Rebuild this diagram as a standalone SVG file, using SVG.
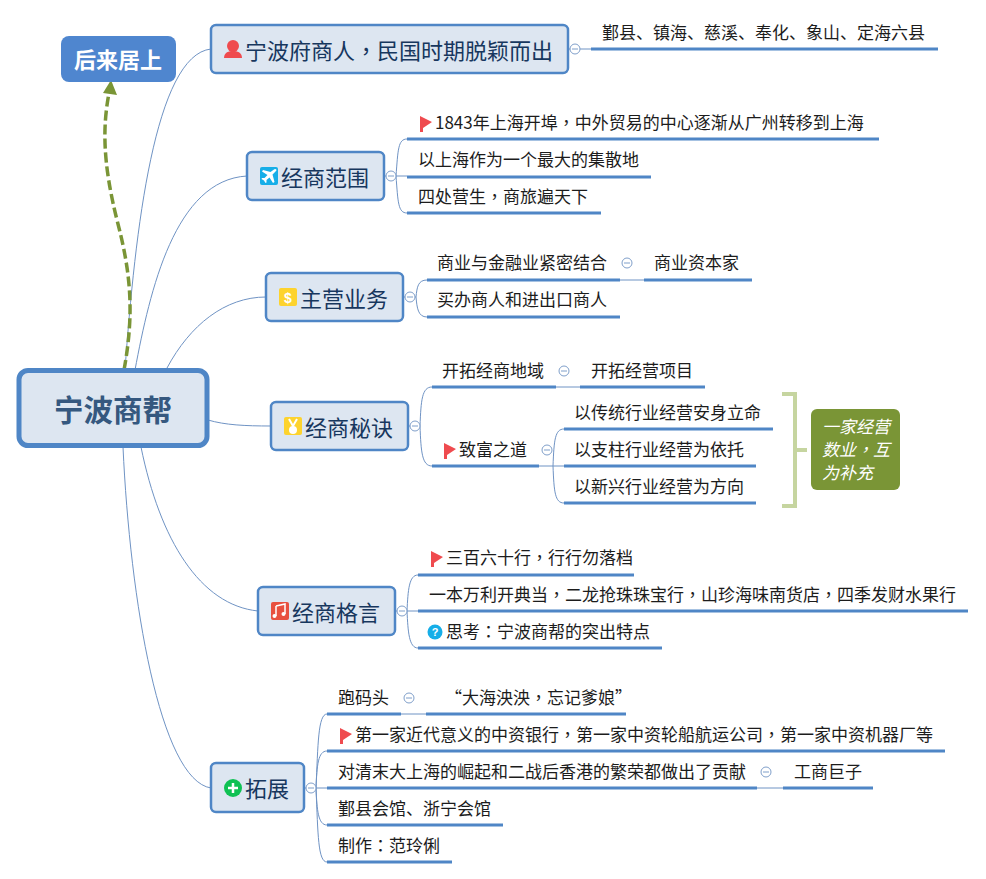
<svg xmlns="http://www.w3.org/2000/svg" width="986" height="879" viewBox="0 0 986 879">
<style>
text{font-family:"Noto Sans CJK SC","Microsoft YaHei",sans-serif;fill:#1c1c1c}
.p{font-family:"Noto Sans CJK TC","Noto Sans CJK SC",sans-serif}
.m{fill:#dde6f1;stroke:#4f86c6;stroke-width:2.5}
.t{font-size:22px;fill:#17375e}
.l{font-size:17px}
.u{stroke:#4f86c6;stroke-width:3;fill:none}
.c{stroke:#6f93c4;stroke-width:1;fill:none}
.o{fill:#fff;stroke:#7f9fca;stroke-width:1}
.d{stroke:#7f9fca;stroke-width:1}
.f{fill:#ef4b4f}
</style>
<defs>
<g id="col"><circle class="o" r="5"/><line class="d" x1="-3" x2="3"/></g>
<path id="flag" class="f" d="M0,0 L12,6 L3,12 L3,16 L0,16Z"/>
</defs>
<g id="connectors">
<path class="c" d="M125,370 C135,230 155,55 211,49"/>
<path class="c" d="M135,370 C150,290 175,180 247,176"/>
<path class="c" d="M167,368 C190,325 225,297 266,297"/>
<path class="c" d="M208,420 C225,425 245,426 271,426"/>
<path class="c" d="M141,447 C160,540 200,605 258,611"/>
<path class="c" d="M123,447 C130,600 160,780 211,788"/>
<path d="M124,370 C135,310 130,270 117,220 C102,160 103,125 109,93" fill="none" stroke="#7a9536" stroke-width="3.500" stroke-dasharray="10 4"/>
<path d="M111,80 L117,95 L103,93Z" fill="#7a9536"/>
<path class="c" d="M568,49 H591"/>
<path class="c" d="M384,176 H396 M396,176 C398,150 398,139 407,139 M396,176 H407 M396,176 C398,202 398,213 407,213"/>
<path class="c" d="M403,297 H416 M416,297 C417,287 418,280 427,280 M416,297 C417,308 418,317 427,317 M620,280 H644"/>
<path class="c" d="M408,426 H420 M420,426 C421,400 422,387 432,387 M420,426 C421,452 422,466 432,466 M556,387 H580 M539,466 H553 M553,466 C554,440 555,429 564,429 M553,466 H564 M553,466 C554,492 555,503 564,503"/>
<path class="c" d="M395,611 H407 M407,611 C408,590 409,575 418,575 M407,611 H418 M407,611 C408,632 409,648 418,648"/>
<path class="c" d="M304,788 H316 M316,788 C318,745 318,714 327,714 M316,788 C317,765 318,751 327,751 M316,788 H327 M316,788 C317,810 318,825 327,825 M316,788 C318,835 318,862 327,862 M401,714 H426 M757,788 H783"/>
</g>
<g id="underlines">
<path class="u" d="M591,49 H938"/>
<path class="u" d="M407,139 H879 M407,177 H651 M407,213 H601"/>
<path class="u" d="M427,280 H620 M644,280 H752 M427,317 H620"/>
<path class="u" d="M432,387 H556 M580,387 H705 M432,466 H539 M564,429 H773 M564,466 H756 M564,503 H756"/>
<path class="u" d="M418,575 H634 M418,611 H968 M418,648 H662"/>
<path class="u" d="M327,714 H401 M426,714 H626 M327,751 H945 M327,788 H757 M783,788 H873 M327,825 H503 M327,862 H452"/>
</g>
<g id="center">
<rect x="19" y="370.500" width="188" height="75" rx="9" fill="#dde6f1" stroke="#4f86c6" stroke-width="5"/>
<text x="113" y="421" text-anchor="middle" font-size="29.500" font-weight="700" style="fill:#35587f">宁波商帮</text>
</g>
<g id="later">
<rect x="61" y="36" width="115" height="46" rx="8" fill="#4f86cf"/>
<text x="118" y="68" text-anchor="middle" font-size="22" font-weight="700" style="fill:#fff">后来居上</text>
</g>
<g id="n1">
<rect class="m" x="211" y="25" width="357" height="48" rx="5"/>
<circle class="f" cx="233" cy="46" r="6"/><path class="f" d="M224,58 C224,52 229,51 233,51 C237,51 242,52 242,58Z"/>
<text class="t" x="245" y="59">宁波府商人<tspan class="p">，</tspan>民国时期脱颖而出</text>
<use href="#col" x="575" y="49"/>
<text class="l" x="602" y="39">鄞县、镇海、慈溪、奉化、象山、定海六县</text>
</g>
<g id="n2">
<rect class="m" x="247" y="152" width="137" height="48" rx="5"/>
<rect x="260" y="167" width="18" height="18" rx="2" fill="#16aee8"/>
<path fill="#fff" d="M275,169 C276.500,169 277,170 276,171 L272.500,174.500 L274.500,182 L273,183 L269.500,177.500 L266.500,180 L266.500,182.500 L265.500,183 L264,180.500 L261.500,179 L262,178 L264.500,178 L267.500,175 L262,171.500 L263,170 L270.500,172 L274,169.500Z"/>
<text class="t" x="281" y="186">经商范围</text>
<use href="#col" x="391" y="176"/>
<use href="#flag" x="420" y="116"/>
<text class="l" x="435" y="129">1843年上海开埠<tspan class="p">，</tspan>中外贸易的中心逐渐从广州转移到上海</text>
<text class="l" x="418" y="166">以上海作为一个最大的集散地</text>
<text class="l" x="418" y="203">四处营生<tspan class="p">，</tspan>商旅遍天下</text>
</g>
<g id="n3">
<rect class="m" x="266" y="273" width="137" height="48" rx="5"/>
<rect x="279" y="288" width="18" height="18" rx="2" fill="#fdd32e"/>
<text x="288" y="303" text-anchor="middle" font-size="14" font-weight="700" style="fill:#fff;font-family:'Liberation Sans',sans-serif">$</text>
<text class="t" x="300" y="307">主营业务</text>
<use href="#col" x="410" y="297"/>
<text class="l" x="437" y="269">商业与金融业紧密结合</text>
<use href="#col" x="627" y="263"/>
<text class="l" x="654" y="269">商业资本家</text>
<text class="l" x="437" y="306">买办商人和进出口商人</text>
</g>
<g id="n4">
<rect class="m" x="271" y="402" width="137" height="48" rx="5"/>
<rect x="284" y="417" width="18" height="18" rx="2" fill="#fdd32e"/>
<circle cx="293" cy="430" r="4" fill="#fff"/><path d="M289,419 L293,426 L297,419" stroke="#fff" stroke-width="2" fill="none"/>
<text class="t" x="305" y="436">经商秘诀</text>
<use href="#col" x="415" y="426"/>
<text class="l" x="442" y="377">开拓经商地域</text>
<use href="#col" x="564" y="371"/>
<text class="l" x="591" y="377">开拓经营项目</text>
<use href="#flag" x="444" y="443"/>
<text class="l" x="459" y="456">致富之道</text>
<use href="#col" x="547" y="450"/>
<text class="l" x="574" y="419">以传统行业经营安身立命</text>
<text class="l" x="574" y="456">以支柱行业经营为依托</text>
<text class="l" x="574" y="493">以新兴行业经营为方向</text>
</g>
<g id="summary">
<path d="M782,394 H795 V506 H782 M795,450 H807" fill="none" stroke="#c6d5a0" stroke-width="4"/>
<rect x="811" y="409" width="89" height="81" rx="6" fill="#7a9536"/>
<text class="l" x="822" y="433" font-style="italic" style="fill:#fff">一家经营</text>
<text class="l" x="822" y="456" font-style="italic" style="fill:#fff">数业<tspan class="p">，</tspan>互</text>
<text class="l" x="822" y="479" font-style="italic" style="fill:#fff">为补充</text>
</g>
<g id="n5">
<rect class="m" x="258" y="587" width="137" height="48" rx="5"/>
<rect x="271" y="602" width="18" height="18" rx="2" fill="#e8503f"/>
<path d="M276,606 L285,604 V614 M276,606 V616" stroke="#fff" stroke-width="1.500" fill="none"/><circle cx="274.500" cy="616" r="2" fill="#fff"/><circle cx="283.500" cy="614" r="2" fill="#fff"/>
<text class="t" x="292" y="621">经商格言</text>
<use href="#col" x="402" y="611"/>
<use href="#flag" x="431" y="551"/>
<text class="l" x="446" y="564">三百六十行<tspan class="p">，</tspan>行行勿落档</text>
<text class="l" x="429" y="601">一本万利开典当<tspan class="p">，</tspan>二龙抢珠珠宝行<tspan class="p">，</tspan>山珍海味南货店<tspan class="p">，</tspan>四季发财水果行</text>
<circle cx="435" cy="632" r="7.500" fill="#16aee8"/>
<text x="435" y="636" text-anchor="middle" font-size="11" font-weight="700" style="fill:#fff;font-family:'Liberation Sans',sans-serif">?</text>
<text class="l" x="446" y="638">思考<tspan class="p">：</tspan>宁波商帮的突出特点</text>
</g>
<g id="n6">
<rect class="m" x="211" y="763" width="93" height="49" rx="5"/>
<circle cx="233" cy="788" r="9" fill="#0fc153"/>
<path d="M228,788 H238 M233,783 V793" stroke="#fff" stroke-width="2.500"/>
<text class="t" x="245" y="797">拓展</text>
<use href="#col" x="311" y="788"/>
<text class="l" x="338" y="704">跑码头</text>
<use href="#col" x="409" y="698"/>
<text class="l" x="445" y="704">“大海泱泱<tspan class="p">，</tspan>忘记爹娘”</text>
<use href="#flag" x="340" y="728"/>
<text class="l" x="355" y="741">第一家近代意义的中资银行<tspan class="p">，</tspan>第一家中资轮船航运公司<tspan class="p">，</tspan>第一家中资机器厂等</text>
<text class="l" x="338" y="778">对清末大上海的崛起和二战后香港的繁荣都做出了贡献</text>
<use href="#col" x="766" y="772"/>
<text class="l" x="794" y="778">工商巨子</text>
<text class="l" x="338" y="815">鄞县会馆、浙宁会馆</text>
<text class="l" x="338" y="852">制作<tspan class="p">：</tspan>范玲俐</text>
</g>
</svg>
